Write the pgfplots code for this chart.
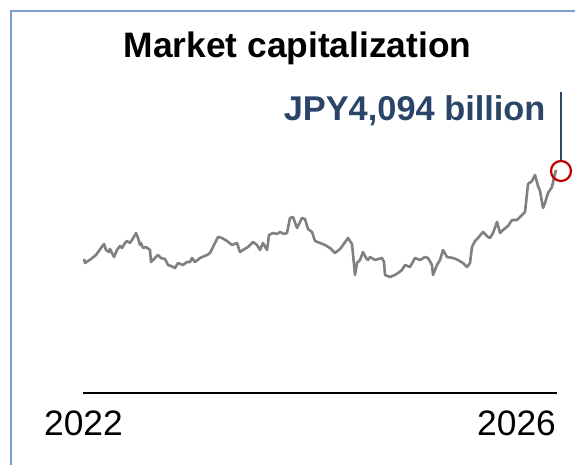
\documentclass[border=0pt]{standalone}
\usepackage{pgfplots}
\pgfplotsset{compat=1.18}
\usepackage{fontspec}
\setmainfont{Liberation Sans}
\definecolor{framecol}{HTML}{7C9FD2}
\definecolor{navy}{HTML}{2B4569}
\definecolor{linegray}{HTML}{808080}
\definecolor{circred}{HTML}{C00000}
\begin{document}
\begin{tikzpicture}[x=1bp,y=1bp]
\path[use as bounding box] (0,0) rectangle (575,465);
\draw[framecol, line width=2bp] (11,0) -- (11,454) -- (575,454);
\node[anchor=base, font=\fontsize{35.5}{40}\selectfont\bfseries] at (297.5,407) {Market capitalization};
\begin{axis}[
  at={(83bp,72bp)}, anchor=south west,
  scale only axis, width=474bp, height=303bp,
  xmin=83, xmax=557, ymin=72, ymax=375,
  clip=false,
  axis y line=none,
  axis x line*=bottom,
  x axis line style={black, line width=1.8bp, -},
  xtick={83.5,516.5}, xticklabels={2022,2026},
  major tick length=0pt,
  xticklabel style={font=\fontsize{35.5}{40}\selectfont, yshift=-14bp},
  /pgf/number format/assume math mode=true,
]
\addplot[linegray, line width=2.6bp, line join=round] coordinates {
(84,206)(85,202)(88,204)(91,206)(96,210)(101,217)(104,221)(106,215)(109,213)(110,216)
(114,208)(117,215)(120,219)(122,217)(125,222)(127,224)(130,222)(132,225)(135,230)(136,232)
(138,227)(140,220)(141,222)(143,217)(146,218)(150,215)(151,203)(155,207)(158,210)(161,207)
(165,206)(168,200)(171,199)(175,197)(178,202)(183,200)(187,203)(190,203)(192,207)(195,203)
(200,207)(207,210)(210,212)(213,218)(218,228)(222,227)(227,224)(232,220)(237,222)(240,213)
(243,215)(248,218)(253,223)(257,220)(260,215)(263,222)(267,215)(269,230)(273,232)(277,231)
(280,233)(284,231)(287,232)(290,247)(293,248)(297,237)(302,247)(305,246)(308,236)(312,233)
(315,224)(320,222)(325,220)(330,217)(335,212)(340,216)(343,220)(348,227)(352,221)(355,190)
(357,202)(360,205)(363,213)(366,207)(368,205)(370,208)(375,205)(382,207)(384,203)(385,190)
(390,188)(395,190)(398,192)(402,195)(405,200)(410,198)(415,207)(420,205)(425,208)(428,207)
(432,200)(433,190)(437,200)(440,205)(443,215)(447,208)(453,207)(458,205)(463,202)(467,198)
(470,202)(472,218)(475,224)(478,227)(483,233)(488,228)(490,227)(493,232)(497,243)(500,232)
(503,235)(508,239)(512,245)(517,245)(522,250)(525,253)(528,281)(532,284)(535,290)(538,279)
(540,274)(543,257)(545,262)(548,272)(552,278)(553,283)(556,295)
};
\addplot[only marks, mark=o, mark size=10bp, circred, mark options={line width=2.2bp}] coordinates {(561,294)};
\draw[navy, line width=1.8bp] (axis cs:561,304) -- (axis cs:561,373);
\node[anchor=base east, navy, font=\fontsize{34.5}{40}\selectfont\bfseries] at (axis cs:549,344) {JPY4,094 billion};
\end{axis}
\end{tikzpicture}
\end{document}
